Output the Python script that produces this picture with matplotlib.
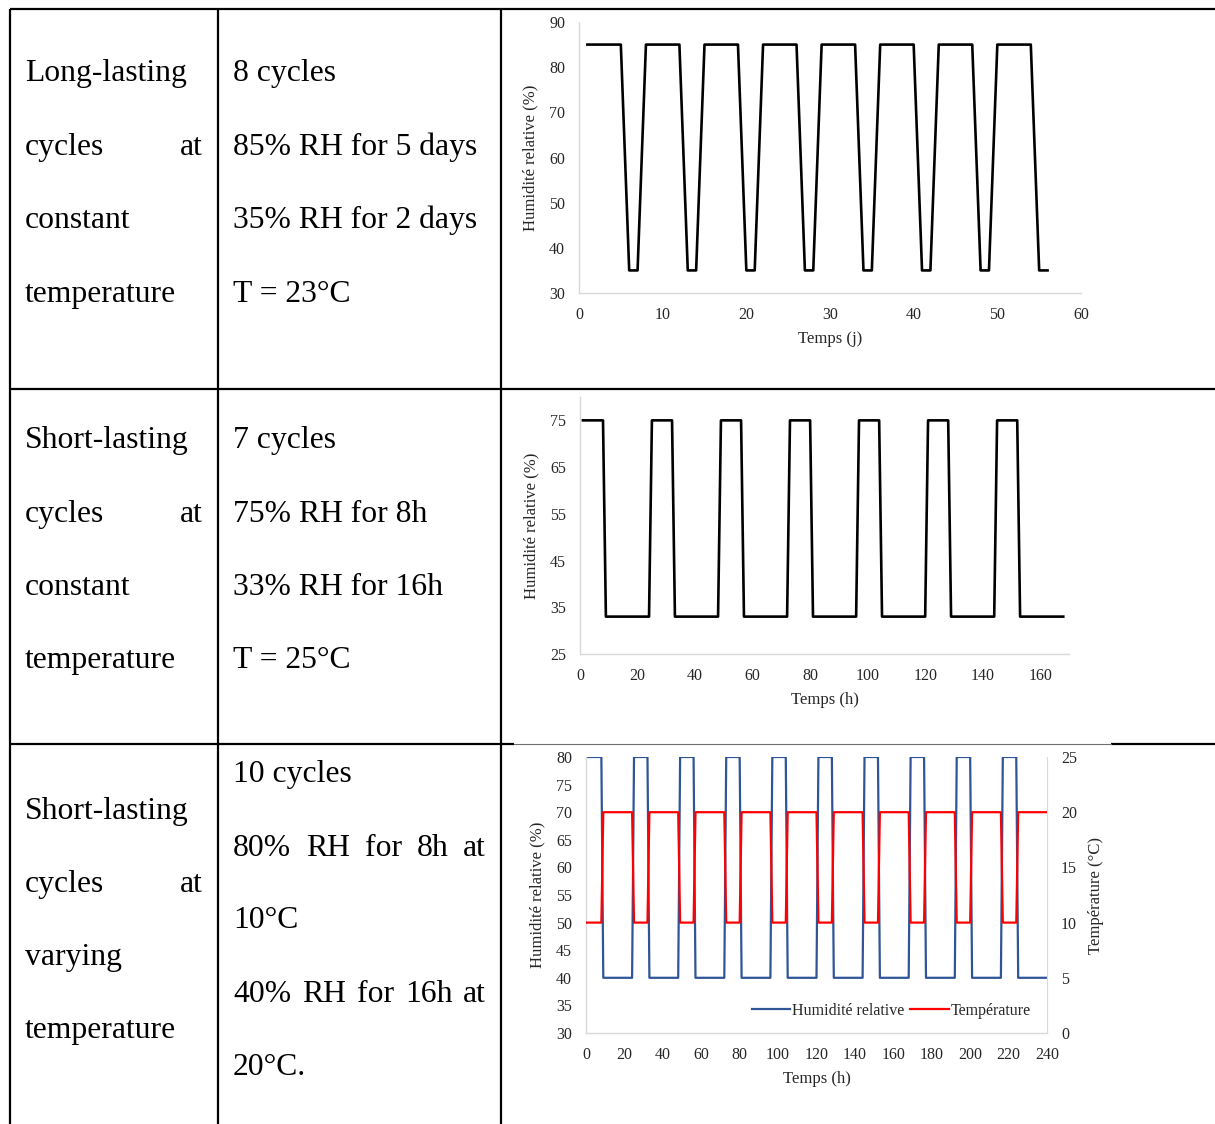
import matplotlib
matplotlib.use("Agg")
import matplotlib.pyplot as plt
from matplotlib.lines import Line2D

plt.rcParams['font.family'] = ['Liberation Serif', 'DejaVu Serif']

# ---- data -------------------------------------------------------------
# Long-lasting cycles at constant temperature (time in days, RH in %)
days_long = [1, 5, 6, 7, 8, 12, 13, 14, 15, 19, 20, 21, 22, 26, 27, 28,
             29, 33, 34, 35, 36, 40, 41, 42, 43, 47, 48, 49, 50, 54, 55, 56]
rh_long = [85, 85, 35, 35, 85, 85, 35, 35, 85, 85, 35, 35, 85, 85, 35, 35,
           85, 85, 35, 35, 85, 85, 35, 35, 85, 85, 35, 35, 85, 85, 35, 35]

# Short-lasting cycles at constant temperature (time in hours, RH in %)
hours_short = [1, 8, 9, 24, 25, 32, 33, 48, 49, 56, 57, 72, 73, 80,
               81, 96, 97, 104, 105, 120, 121, 128, 129, 144, 145, 152, 153, 168]
rh_short = [75, 75, 33, 33, 75, 75, 33, 33, 75, 75, 33, 33, 75, 75,
            33, 33, 75, 75, 33, 33, 75, 75, 33, 33, 75, 75, 33, 33]

# Short-lasting cycles at varying temperature (time in hours)
hours_var = [0, 8, 9, 24, 25, 32, 33, 48, 49, 56, 57, 72, 73, 80, 81, 96,
             97, 104, 105, 120, 121, 128, 129, 144, 145, 152, 153, 168,
             169, 176, 177, 192, 193, 200, 201, 216, 217, 224, 225, 240]
rh_var = [80, 80, 40, 40, 80, 80, 40, 40, 80, 80, 40, 40, 80, 80, 40, 40,
          80, 80, 40, 40, 80, 80, 40, 40, 80, 80, 40, 40,
          80, 80, 40, 40, 80, 80, 40, 40, 80, 80, 40, 40]
temp_var = [10, 10, 20, 20, 10, 10, 20, 20, 10, 10, 20, 20, 10, 10, 20, 20,
            10, 10, 20, 20, 10, 10, 20, 20, 10, 10, 20, 20,
            10, 10, 20, 20, 10, 10, 20, 20, 10, 10, 20, 20]

# table text: (left cell lines, middle cell lines)
row_labels = [
    ["Long-lasting", "cycles|at", "constant", "temperature"],
    ["Short-lasting", "cycles|at", "constant", "temperature"],
    ["Short-lasting", "cycles|at", "varying", "temperature"],
]
row_conditions = [
    ["8 cycles", "85% RH for 5 days", "35% RH for 2 days", "T = 23°C"],
    ["7 cycles", "75% RH for 8h", "33% RH for 16h", "T = 25°C"],
    ["10 cycles", "80%|RH|for|8h|at", "10°C", "40%|RH|for|16h|at", "20°C."],
]
label_baselines = [[81, 155, 228, 302], [448, 522, 595, 668], [819, 892, 965, 1038]]
cond_baselines = [[81, 155, 228, 302], [448, 522, 595, 668], [782, 856, 928, 1002, 1075]]

W, H = 1215, 1124
fig = plt.figure(figsize=(W / 100, H / 100), dpi=100)
fig.patch.set_facecolor("white")

# background layer in pixel coordinates for the table
bg = fig.add_axes([0, 0, 1, 1], zorder=0)
bg.set_xlim(0, W)
bg.set_ylim(H, 0)
bg.axis("off")

lw_tab = 1.6
table_lines = [
    ((10, 10), (9, H)),          # left border
    ((218, 218), (9, H)),        # first column divider
    ((501, 501), (9, H)),        # second column divider
    ((10, W), (9, 9)),           # top border
    ((10, W), (389, 389)),       # first row divider
    ((10, 514), (744, 744)),     # second row divider (left part)
    ((1111, W), (744, 744)),     # second row divider (right part)
]
for xs, ys in table_lines:
    bg.plot(xs, ys, color="black", lw=lw_tab, solid_capstyle="butt")
bg.plot((514, 1111), (744, 744), color="#6f6f6f", lw=0.8)

TFS = 22.75
renderer = fig.canvas.get_renderer()


def put_line(text, x0, x1, y):
    parts = text.split("|")
    if len(parts) == 1:
        bg.text(x0, y, text, fontsize=TFS, va="baseline", ha="left", color="black")
        return
    objs = [bg.text(x0, y, p, fontsize=TFS, va="baseline", ha="left", color="black")
            for p in parts]
    widths = [o.get_window_extent(renderer).width for o in objs]
    gap = (x1 - x0 - sum(widths)) / (len(parts) - 1)
    x = x0
    for o, w in zip(objs, widths):
        o.set_x(x)
        x += w + gap


for lines, ys in zip(row_labels, label_baselines):
    for t, y in zip(lines, ys):
        put_line(t, 25, 203, y)
for lines, ys in zip(row_conditions, cond_baselines):
    for t, y in zip(lines, ys):
        put_line(t, 233, 486, y)


def px_axes(l, t, r, b):
    return fig.add_axes([l / W, 1 - b / H, (r - l) / W, (b - t) / H], zorder=2)


GRID = "#d9d9d9"
TICK_C = "#262626"


def style(ax, fs=11.5):
    for s in ("top", "right"):
        ax.spines[s].set_visible(False)
    for s in ("left", "bottom"):
        ax.spines[s].set_color(GRID)
        ax.spines[s].set_linewidth(1.0)
    ax.tick_params(length=0, labelsize=fs, colors=TICK_C)
    ax.tick_params(axis="y", pad=10)
    ax.tick_params(axis="x", pad=10)
    ax.set_facecolor("none")


# ---- chart 1 -----------------------------------------------------------
ax1 = px_axes(579, 22, 1081, 293)
ax1.plot(days_long, rh_long, color="black", lw=1.9)
ax1.set_xlim(0, 60)
ax1.set_ylim(30, 90)
ax1.set_xticks(range(0, 61, 10))
ax1.set_yticks(range(30, 91, 10))
style(ax1)
ax1.set_xlabel("Temps (j)", fontsize=12, color=TICK_C, labelpad=6)
ax1.set_ylabel("Humidité relative (%)", fontsize=12, color=TICK_C, labelpad=8)

# ---- chart 2 -----------------------------------------------------------
ax2 = px_axes(580, 397, 1069, 654)
ax2.plot(hours_short, rh_short, color="black", lw=1.9)
ax2.set_xlim(0, 170)
ax2.set_ylim(25, 80)
ax2.set_xticks(range(0, 161, 20))
ax2.set_yticks(range(25, 76, 10))
style(ax2)
ax2.set_xlabel("Temps (h)", fontsize=12, color=TICK_C, labelpad=6)
ax2.set_ylabel("Humidité relative (%)", fontsize=12, color=TICK_C, labelpad=8)

# ---- chart 3 -----------------------------------------------------------
ax3 = px_axes(586, 757, 1047, 1033)
h_rh, = ax3.plot(hours_var, rh_var, color="#2f5597", lw=1.6)
ax3.set_xlim(0, 240)
ax3.set_ylim(30, 80)
ax3.set_xticks(range(0, 241, 20))
ax3.set_yticks(range(30, 81, 5))
style(ax3)
ax3.set_xlabel("Temps (h)", fontsize=12, color=TICK_C, labelpad=6)
ax3.set_ylabel("Humidité relative (%)", fontsize=12, color=TICK_C, labelpad=8)

ax3r = ax3.twinx()
h_t, = ax3r.plot(hours_var, temp_var, color="#ff0000", lw=1.6)
ax3r.set_ylim(0, 25)
ax3r.set_yticks(range(0, 26, 5))
for s in ("top", "left", "bottom"):
    ax3r.spines[s].set_visible(False)
ax3r.spines["right"].set_color(GRID)
ax3r.tick_params(length=0, labelsize=11.5, colors=TICK_C, pad=10)
ax3r.set_ylabel("Température (°C)", fontsize=12, color=TICK_C, labelpad=8)

ax3r.legend([h_rh, h_t], ["Humidité relative", "Température"], loc="center",
            bbox_to_anchor=(0.662, 0.08), ncol=2, frameon=False, fontsize=11.5,
            handlelength=2.4, handletextpad=0.1, columnspacing=0.4,
            labelcolor=TICK_C)

fig.savefig("out.png", dpi=100, facecolor="white")
